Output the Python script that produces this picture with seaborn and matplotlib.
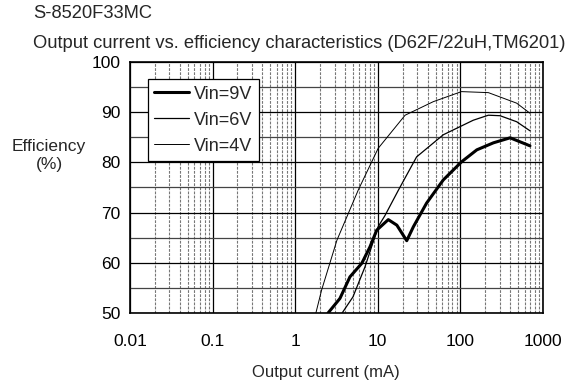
import matplotlib
matplotlib.use('Agg')
import matplotlib.pyplot as plt
import seaborn as sb
import numpy as np
import pandas as pd
from matplotlib.ticker import LogLocator, FixedLocator, NullFormatter

# values (mA, %)
i_9v = [2.5, 3.48, 4.6, 6.4, 8.05, 9.7, 13.4, 17.0, 22.4, 27.0, 39.0, 62.0, 103.0, 158.0, 251.0, 400.0, 695.0]
e_9v = [50.0, 52.9, 57.2, 59.9, 63.2, 66.5, 68.6, 67.5, 64.4, 67.2, 71.9, 76.5, 80.1, 82.5, 83.9, 84.9, 83.3]

i_6v = [3.7, 5.0, 7.0, 10.1, 12.2, 17.8, 29.5, 62.0, 143.0, 218.0, 302.0, 480.0, 695.0]
e_6v = [50.0, 53.2, 59.2, 67.2, 69.4, 74.5, 81.1, 85.5, 88.4, 89.4, 89.3, 88.1, 86.3]

i_4v = [1.78, 2.09, 3.2, 5.8, 10.1, 21.4, 47.0, 103.0, 218.0, 480.0, 695.0]
e_4v = [50.0, 54.6, 64.5, 74.5, 82.8, 89.4, 92.1, 94.1, 93.9, 91.8, 89.8]

x_ticks = [0.01, 0.1, 1, 10, 100, 1000]
x_labels = ['0.01', '0.1', '1', '10', '100', '1000']
y_ticks = [50, 60, 70, 80, 90, 100]

sb.set_style('white')
plt.rcParams['font.family'] = ['Liberation Sans', 'DejaVu Sans']
fs = 12.5

fig = plt.figure(figsize=(5.67, 3.85), dpi=100)
ax = fig.add_axes([130 / 567, 1 - 313 / 385, 413 / 567, 251 / 385])

ax.set_xscale('log')
ax.set_xlim(0.01, 1000)
ax.set_ylim(50, 100)

# grid
ax.xaxis.set_major_locator(FixedLocator(x_ticks))
ax.xaxis.set_minor_locator(LogLocator(base=10, subs=np.arange(2, 10)))
ax.xaxis.set_minor_formatter(NullFormatter())
ax.yaxis.set_major_locator(FixedLocator(y_ticks))
ax.yaxis.set_minor_locator(FixedLocator([55, 65, 75, 85, 95]))
ax.grid(True, which='major', axis='both', color='black', linewidth=0.9, linestyle='-')
ax.grid(True, which='minor', axis='x', color='#777777', linewidth=0.8, linestyle=(0, (2.5, 1.2)))
ax.grid(True, which='minor', axis='y', color='#444444', linewidth=0.9, linestyle='-')
ax.set_axisbelow(True)

df9 = pd.DataFrame({'i': i_9v, 'e': e_9v})
df6 = pd.DataFrame({'i': i_6v, 'e': e_6v})
df4 = pd.DataFrame({'i': i_4v, 'e': e_4v})
sb.lineplot(data=df9, x='i', y='e', ax=ax, color='black', linewidth=2.2, sort=False, label='Vin=9V')
sb.lineplot(data=df6, x='i', y='e', ax=ax, color='black', linewidth=0.9, sort=False, label='Vin=6V')
sb.lineplot(data=df4, x='i', y='e', ax=ax, color='black', linewidth=0.7, sort=False, label='Vin=4V')

ax.set_xticks(x_ticks)
ax.set_xticklabels(x_labels)
ax.tick_params(axis='both', which='both', length=0, labelsize=fs, colors='black')
ax.tick_params(axis='x', pad=15)
ax.tick_params(axis='y', pad=7)
for s in ax.spines.values():
    s.set_color('black')
    s.set_linewidth(1.2)

ax.set_xlabel('')
ax.set_ylabel('')
fig.text(326 / 567, 1 - 372 / 385, 'Output current (mA)', ha='center', va='center', fontsize=12)
fig.text(49 / 567, 1 - 156 / 385, 'Efficiency\n(%)', ha='center', va='center', fontsize=fs,
         linespacing=1.25)

fig.text(33 / 567, 1 - 13 / 385, 'S-8520F33MC', ha='left', va='center', fontsize=13.2)
fig.text(33 / 567, 1 - 43 / 385, 'Output current vs. efficiency characteristics (D62F/22uH,TM6201)',
         ha='left', va='center', fontsize=13.2)

leg = ax.legend(loc='upper left', bbox_to_anchor=(0.044, 0.931), borderaxespad=0,
                fontsize=13, handlelength=1.9, fancybox=False, framealpha=1,
                edgecolor='black', borderpad=0.35, labelspacing=0.5, handletextpad=0.3)
leg.get_frame().set_linewidth(0.9)

fig.savefig('out.png', dpi=100)
